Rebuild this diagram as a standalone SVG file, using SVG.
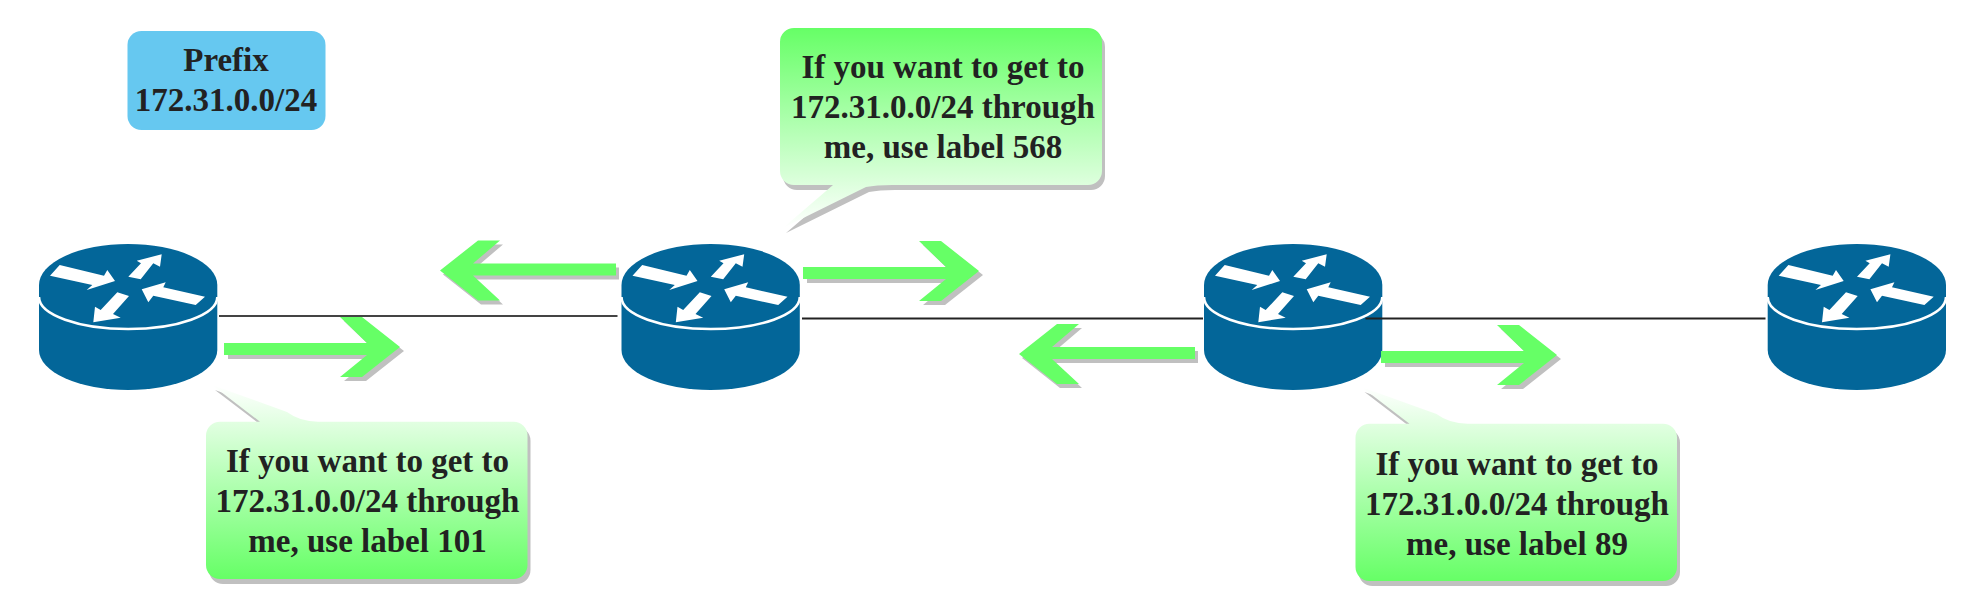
<svg xmlns="http://www.w3.org/2000/svg" width="1981" height="610" viewBox="0 0 1981 610">
<style>
text{font-family:"Liberation Serif","Times New Roman",serif;font-weight:700;font-size:33px;fill:#222;text-anchor:middle}
.link{stroke-width:2;fill:none}
.shadow{fill:#c0c0c0}
.flow{fill:#66ff66}
.body{fill:#036699}
.mark{fill:#fff}
.rim{fill:none;stroke:#fff;stroke-width:2.6}
</style>
<defs>
<linearGradient id="fadeUp" x1="0" y1="0" x2="0" y2="1"><stop offset="0" stop-color="#fff"/><stop offset="1" stop-color="#66ff66"/></linearGradient>
<linearGradient id="fadeDown" x1="0" y1="0" x2="0" y2="1"><stop offset="0" stop-color="#66ff66"/><stop offset="1" stop-color="#fff"/></linearGradient>
<g id="router">
<path class="body" d="M39,285A89,41 0 0 1 217.3,285V350A89,40 0 0 1 39,350Z"/>
<path class="rim" d="M39,297A89,32 0 0 0 217.3,297"/>
<polygon class="mark" points="59.7,265 104,275.7 107.3,270 115,281 86.7,290 92.3,285 50,275.7"/>
<polygon class="mark" points="161.7,254.3 136.7,260.7 141,263.3 128.3,276.7 140.7,279.3 153.3,263.3 160,266.7"/>
<polygon class="mark" points="141.7,289.3 165.7,282.3 163.3,287.3 205,296.7 195.7,305 153.3,295.7 148.3,302.3"/>
<polygon class="mark" points="93.3,322.3 95,306.7 100.7,310 117.3,292.3 129,296 113,314 120.7,317.7"/>
</g>
<polygon id="arrowR" points="0,-4 143,-4 116,-30 138,-30 176,0 138,30 116,30 143,8 0,8"/>
<polygon id="arrowL" points="0,-7 -143,-7 -116,-30 -138,-30 -176,0 -138,30 -116,30 -143,5 0,5"/>
<path id="c1" d="M220,421.7H260L212,385L287,412Q300,421.7 318,421.7H513.5A14,14 0 0 1 527.5,435.7V565A14,14 0 0 1 513.5,579H220A14,14 0 0 1 206,565V435.7A14,14 0 0 1 220,421.7Z"/>
<path id="c2" d="M794,28H1088A14,14 0 0 1 1102,42V171A14,14 0 0 1 1088,185H892Q876,185 866,187L783,228L833,185H794A14,14 0 0 1 780,171V42A14,14 0 0 1 794,28Z"/>
</defs>
<g id="router-1"><use href="#router"/></g>
<g id="router-2"><use href="#router" x="582.5"/></g>
<g id="router-3"><use href="#router" x="1165"/></g>
<g id="router-4"><use href="#router" x="1728.7"/></g>
<g id="connectors">
<line class="link" x1="219" y1="316" x2="617.5" y2="316" stroke="#444"/>
<line class="link" x1="802" y1="318.5" x2="1203" y2="318.5" stroke="#222"/>
<line class="link" x1="1365.5" y1="318.5" x2="1765.5" y2="318.5" stroke="#222"/>
</g>
<g id="advert-arrows">
<g id="arrow-1"><use class="shadow" href="#arrowR" x="228" y="351"/><use class="flow" href="#arrowR" x="224" y="347"/></g>
<g id="arrow-2"><use class="shadow" href="#arrowL" x="619" y="274.5"/><use class="flow" href="#arrowL" x="616" y="270.5"/></g>
<g id="arrow-3"><use class="shadow" href="#arrowR" x="807" y="275"/><use class="flow" href="#arrowR" x="803" y="271"/></g>
<g id="arrow-4"><use class="shadow" href="#arrowL" x="1198" y="358"/><use class="flow" href="#arrowL" x="1195" y="354"/></g>
<g id="arrow-5"><use class="shadow" href="#arrowR" x="1385" y="359"/><use class="flow" href="#arrowR" x="1381" y="355"/></g>
</g>
<g id="prefix">
<rect x="127.5" y="31" width="198" height="99" rx="14" fill="#66c8f0"/>
<text x="226" y="71">Prefix</text>
<text x="226" y="111">172.31.0.0/24</text>
</g>
<g id="callout-101">
<use class="shadow" href="#c1" x="3" y="5"/>
<use href="#c1" fill="url(#fadeUp)"/>
<text x="367.5" y="472">If you want to get to</text>
<text x="367.5" y="512">172.31.0.0/24 through</text>
<text x="367.5" y="552">me, use label 101</text>
</g>
<g id="callout-568">
<use class="shadow" href="#c2" x="3" y="5"/>
<use href="#c2" fill="url(#fadeDown)"/>
<text x="943" y="78">If you want to get to</text>
<text x="943" y="118">172.31.0.0/24 through</text>
<text x="943" y="158">me, use label 568</text>
</g>
<g id="callout-89" transform="translate(1149.5,2)">
<use class="shadow" href="#c1" x="3" y="5"/>
<use href="#c1" fill="url(#fadeUp)"/>
<text x="367.5" y="473">If you want to get to</text>
<text x="367.5" y="513">172.31.0.0/24 through</text>
<text x="367.5" y="553">me, use label 89</text>
</g>
</svg>
